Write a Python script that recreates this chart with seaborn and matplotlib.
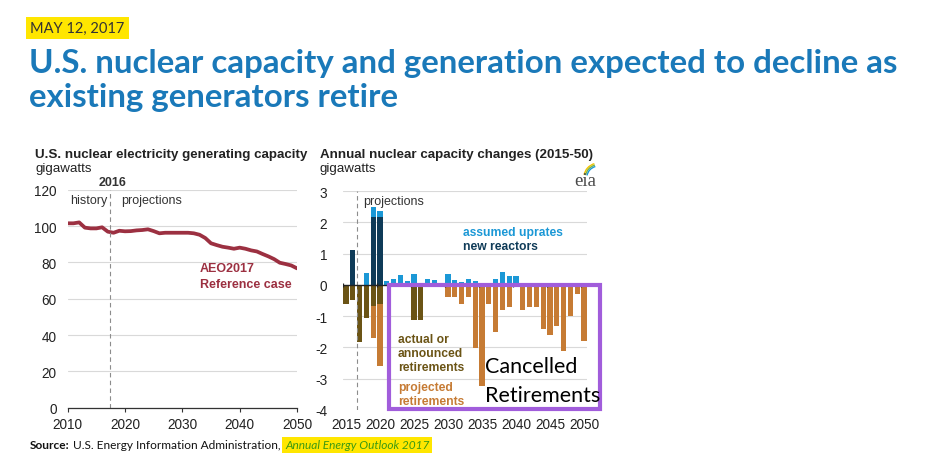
"""
EIA chart: U.S. nuclear capacity and annual capacity changes (AEO2017)
"""
import numpy as np
import pandas as pd
import matplotlib
matplotlib.use("Agg")
import matplotlib.pyplot as plt
from matplotlib.patches import Rectangle, Arc
import seaborn as sns

# ---- data ----
cap_years = list(range(2010, 2051))
capacity_gw = [101.5, 101.5, 102.0, 99.1, 98.7, 98.7, 99.3, 96.9, 96.3, 97.4,
               97.1, 97.2, 97.6, 97.8, 98.2, 97.2, 96.0, 96.3, 96.3, 96.3,
               96.3, 96.3, 96.0, 95.2, 93.4, 90.5, 89.5, 88.6, 88.1, 87.5,
               88.1, 87.5, 86.6, 86.0, 84.6, 83.3, 81.8, 79.8, 79.1, 78.3,
               76.7]

chg_years = list(range(2015, 2051))
new_reactors = [0, 1.10, 0, 0, 2.18, 2.18, 0, 0, 0, 0,
                0, 0, 0, 0, 0, 0, 0, 0, 0, 0,
                0, 0, 0, 0, 0, 0, 0, 0, 0, 0,
                0, 0, 0, 0, 0, 0]
uprates = [0, 0, 0, 0.37, 0.30, 0.17, 0.11, 0.18, 0.33, 0.11,
           0.34, 0, 0.20, 0.17, 0.07, 0.36, 0.17, 0.09, 0.20, 0.11,
           0.04, 0, 0.20, 0.42, 0.28, 0.27, 0, 0, 0, 0,
           0, 0, 0, 0, 0, 0]
actual_ret = [-0.62, -0.48, -1.83, -1.06, -0.68, -0.62, 0, 0, 0, 0,
              -1.13, -1.13, 0, 0, 0, 0, 0, 0, 0, 0,
              0, 0, 0, 0, 0, 0, 0, 0, 0, 0,
              0, 0, 0, 0, 0, 0]
projected_ret = [0, 0, 0, 0, -1.02, -1.96, 0, 0, 0, 0,
                 0, 0, 0, 0, 0, -0.38, -0.38, -0.61, -0.38, -2.02,
                 -3.22, -0.62, -1.51, -0.81, -0.71, 0, -0.81, -0.71, -0.71, -1.42,
                 -1.61, -1.32, -2.11, -1.01, -0.30, -1.80]

# ---- colours ----
TITLE_BLUE = "#1a79b9"
LINE_RED = "#9c3041"
NAVY = "#0f3b58"
LIGHT_BLUE = "#1b98d6"
OLIVE = "#6b5415"
ORANGE = "#c67b34"
PURPLE = "#a15ddb"
GRID = "#d9d9d9"
TXT = "#222222"

W, H = 943, 477
HEAD_FONT = ["Lato", "DejaVu Sans"]


def fx(px):
    return px / W


def fy(py):
    return 1 - py / H


def main():
    sns.set_theme(style="white")
    plt.rcParams["font.family"] = ["Liberation Sans", "DejaVu Sans"]
    plt.rcParams["axes.unicode_minus"] = False

    fig = plt.figure(figsize=(W / 100, H / 100), dpi=100)
    fig.patch.set_facecolor("white")

    # ---------- left chart ----------
    ax1 = fig.add_axes([fx(67.7), fy(408.7), fx(297 - 67.7), (408.7 - 190.7) / H])
    df_cap = pd.DataFrame({"year": cap_years, "gw": capacity_gw})
    sns.lineplot(data=df_cap, x="year", y="gw", color=LINE_RED, linewidth=2.7, ax=ax1)
    ax1.set_xlim(2010, 2050)
    ax1.set_ylim(0, 120)
    ax1.set_yticks(range(0, 121, 20))
    ax1.set_xticks(range(2010, 2051, 10))
    ax1.yaxis.grid(True, color=GRID, linewidth=0.8)
    ax1.set_axisbelow(True)
    for s in ["left", "right", "top"]:
        ax1.spines[s].set_visible(False)
    ax1.spines["bottom"].set_color("#333333")
    ax1.spines["bottom"].set_linewidth(0.9)
    ax1.tick_params(axis="y", length=0, pad=8, labelsize=9.8, labelcolor=TXT)
    ax1.tick_params(axis="x", length=3, width=0.8, color="#333333", bottom=True,
                    pad=4, labelsize=9.8, labelcolor=TXT)
    ax1.set_xlabel("")
    ax1.set_ylabel("")
    ax1.axvline(2017.4, color="#8c8c8c", linestyle=(0, (4, 3)), linewidth=0.8)
    ax1.text(2017.9, 124.5, "2016", fontsize=9, fontweight="bold", color="#333333",
             ha="center", va="center", clip_on=False)
    ax1.text(2010.4, 114.2, "history", fontsize=9, color="#333333", va="center")
    ax1.text(2019.4, 114.2, "projections", fontsize=9, color="#333333", va="center")
    ax1.text(2033.1, 76.9, "AEO2017", fontsize=9, fontweight="bold", color=LINE_RED, va="center")
    ax1.text(2033.1, 68.3, "Reference case", fontsize=9, fontweight="bold", color=LINE_RED, va="center")

    fig.text(fx(35), fy(155), "U.S. nuclear electricity generating capacity", fontsize=9.6,
             fontweight="bold", color=TXT, va="center")
    fig.text(fx(35), fy(169), "gigawatts", fontsize=9.6, color=TXT, va="center")

    # ---------- right chart ----------
    ax2 = fig.add_axes([fx(342.6), fy(411), fx(587.4 - 342.6), (411 - 192) / H])
    pos_total = np.array(new_reactors) + np.array(uprates)
    neg_total = np.array(actual_ret) + np.array(projected_ret)
    layers = [(pos_total, LIGHT_BLUE), (new_reactors, NAVY),
              (neg_total, ORANGE), (actual_ret, OLIVE)]
    for vals, col in layers:
        sns.barplot(x=chg_years, y=list(vals), native_scale=True, color=col,
                    saturation=1, width=0.74, linewidth=0, errorbar=None, ax=ax2)
    ax2.set_xlim(2014.5, 2050.5)
    ax2.set_ylim(-4, 3)
    ax2.set_yticks(range(-4, 4))
    ax2.set_xticks(range(2015, 2051, 5))
    ax2.set_xticklabels([str(y) for y in range(2015, 2051, 5)])
    for yv in [3, 2, 1, -1, -2, -3]:
        ax2.axhline(yv, color=GRID, linewidth=0.8, zorder=0)
    ax2.axhline(0, color="#222222", linewidth=1.0, zorder=5)
    ax2.vlines(np.arange(2014.5, 2051, 5), -0.07, 0.07, color="#222222", linewidth=0.9, zorder=5)
    for s in ["left", "right", "top", "bottom"]:
        ax2.spines[s].set_visible(False)
    ax2.tick_params(axis="y", length=0, pad=11, labelsize=9.8, labelcolor=TXT)
    ax2.tick_params(axis="x", length=0, pad=5, labelsize=9.8, labelcolor=TXT)
    ax2.set_xlabel("")
    ax2.set_ylabel("")
    ax2.axvline(2016.66, color="#8c8c8c", linestyle=(0, (4, 3)), linewidth=0.8, zorder=1)
    ax2.text(2017.5, 2.68, "projections", fontsize=9, color="#333333", va="center")
    ax2.text(2032.2, 1.69, "assumed uprates", fontsize=8.7, fontweight="bold",
             color=LIGHT_BLUE, va="center")
    ax2.text(2032.2, 1.25, "new reactors", fontsize=8.7, fontweight="bold", color=NAVY, va="center")
    for i, t in enumerate(["actual or", "announced", "retirements"]):
        ax2.text(2022.6, -1.73 - 0.45 * i, t, fontsize=8.7, fontweight="bold",
                 color=OLIVE, va="center")
    for i, t in enumerate(["projected", "retirements"]):
        ax2.text(2022.6, -3.26 - 0.45 * i, t, fontsize=8.7, fontweight="bold",
                 color=ORANGE, va="center")

    fig.text(fx(320), fy(155), "Annual nuclear capacity changes (2015-50)", fontsize=9.6,
             fontweight="bold", color=TXT, va="center")
    fig.text(fx(320), fy(169), "gigawatts", fontsize=9.6, color=TXT, va="center")

    # eia logo
    fig.text(fx(585), fy(181), "eia", fontsize=13.5, family="Liberation Serif",
             color="#4a4a4a", ha="center", va="center")
    for r, col in [(0, "#f2c200"), (3, "#7cb342"), (6, "#1b98d6")]:
        arc = Arc((fx(599), fy(178)), fx(30 - r), (28 - r) / H, theta1=100, theta2=165,
                  transform=fig.transFigure, color=col, linewidth=1.0)
        fig.add_artist(arc)

    # purple annotation box
    fig.add_artist(Rectangle((fx(389.3), fy(410)), fx(600 - 389.3), (410 - 286) / H,
                             transform=fig.transFigure, fill=False, edgecolor=PURPLE,
                             linewidth=3.0, zorder=10))
    fig.text(fx(485), fy(367), "Cancelled", fontsize=15.5, family=HEAD_FONT,
             color="black", va="center", zorder=11)
    fig.text(fx(485), fy(396), "Retirements", fontsize=15.5, family=HEAD_FONT,
             color="black", va="center", zorder=11)

    # ---------- header ----------
    fig.text(fx(30), fy(29), "MAY 12, 2017", fontsize=10.5, family=HEAD_FONT,
             color="#333333", va="center",
             bbox=dict(facecolor="#ffe600", edgecolor="none", pad=3))
    line1 = fig.text(fx(29), fy(63), "U.S. nuclear capacity and generation expected to decline as",
                     fontsize=21, fontweight="bold", family=HEAD_FONT,
                     color=TITLE_BLUE, va="center")
    line2 = fig.text(fx(29), fy(98), "existing generators retire",
                     fontsize=21, fontweight="bold", family=HEAD_FONT,
                     color=TITLE_BLUE, va="center")

    # fit the headline to the width it has in the reference
    fig.canvas.draw()
    renderer = fig.canvas.get_renderer()
    w1 = line1.get_window_extent(renderer).width
    new_size = 21 * (897 - 29) / w1
    line1.set_fontsize(new_size)
    line2.set_fontsize(new_size)

    # ---------- source line ----------
    t1 = fig.text(fx(30), fy(446), "Source:", fontsize=8.6, fontweight="bold",
                  family=HEAD_FONT, color="#111111", va="center")
    x_next = t1.get_window_extent(renderer).x1
    t2 = fig.text(x_next / W, fy(446), " U.S. Energy Information Administration, ", fontsize=8.6,
                  family=HEAD_FONT, color="#111111", va="center")
    x_next = t2.get_window_extent(renderer).x1
    fig.text(x_next / W + 0.002, fy(446), "Annual Energy Outlook 2017", fontsize=8.6,
             style="italic", family=HEAD_FONT, color="#3c9a12", va="center",
             bbox=dict(facecolor="#ffe600", edgecolor="none", pad=2))

    fig.savefig("out.png", dpi=100)


if __name__ == "__main__":
    main()
